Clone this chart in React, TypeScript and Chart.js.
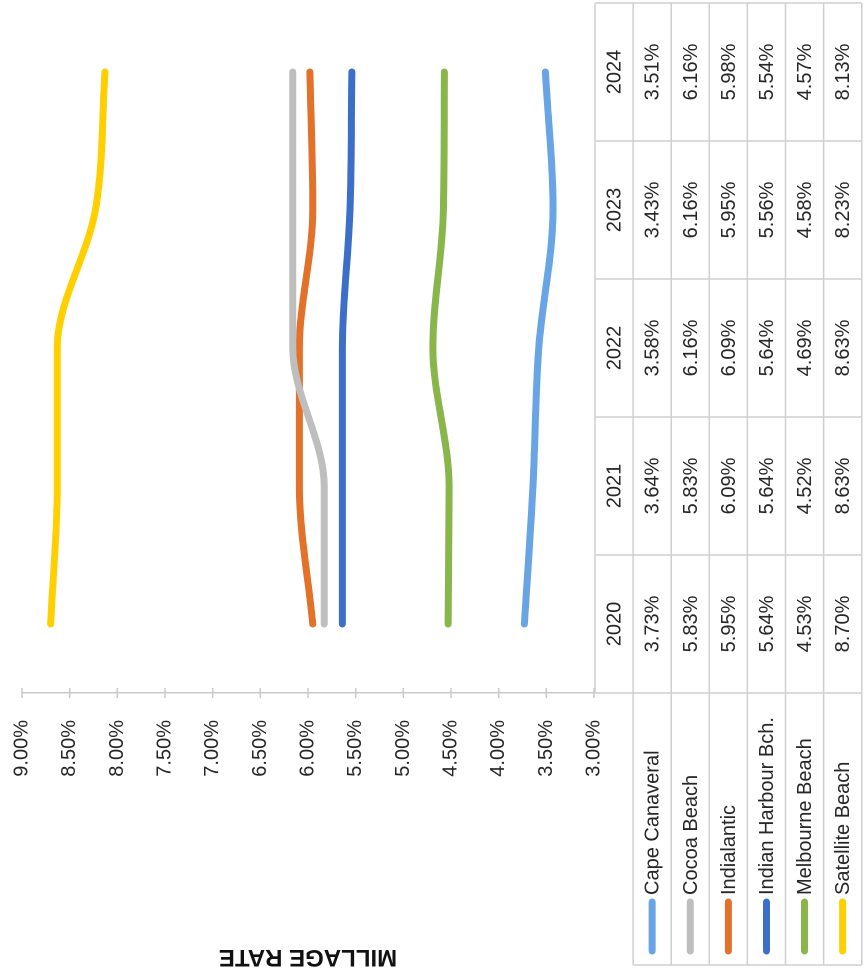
import React, { useEffect, useRef } from "react";
import { Chart, registerables } from "chart.js";

Chart.register(...registerables);

// ---- data ----
const years = ["2020", "2021", "2022", "2023", "2024"];
const seriesNames = [
  "Cape Canaveral",
  "Cocoa Beach",
  "Indialantic",
  "Indian Harbour Bch.",
  "Melbourne Beach",
  "Satellite Beach",
];
const capeCanaveral = [3.73, 3.64, 3.58, 3.43, 3.51];
const cocoaBeach = [5.83, 5.83, 6.16, 6.16, 6.16];
const indialantic = [5.95, 6.09, 6.09, 5.95, 5.98];
const indianHarbour = [5.64, 5.64, 5.64, 5.56, 5.54];
const melbourneBeach = [4.53, 4.52, 4.69, 4.58, 4.57];
const satelliteBeach = [8.7, 8.63, 8.63, 8.23, 8.13];
const seriesColors = ["#69A5E4", "#BEBEBE", "#E2722A", "#3C6FC8", "#88B64B", "#FFCF00"];
const axisMin = 3;
const axisMax = 9;
const axisStep = 0.5;
const axisTitle = "MILLAGE RATE";

const seriesValues = [capeCanaveral, cocoaBeach, indialantic, indianHarbour, melbourneBeach, satelliteBeach];

const FONT = "'Liberation Sans', Arial, sans-serif";
const fmt = (v: number) => v.toFixed(2) + "%";

const tablePlugin = {
  id: "dataTable",
  afterDraw(chart: any) {
    const ctx = chart.ctx as CanvasRenderingContext2D;
    const area = chart.chartArea;
    const xs = chart.scales.x;
    const ys = chart.scales.y;
    const n = years.length;
    const colW = xs.getPixelForValue(1) - xs.getPixelForValue(0);
    const bounds: number[] = [];
    for (let i = 0; i <= n; i++) bounds.push(xs.getPixelForValue(0) - colW / 2 + i * colW);
    const top = 595;
    const rowH = 38.1;
    const rows = seriesNames.length;
    const bottom = top + rowH * (rows + 1);
    const legendLeft = 11;

    ctx.save();
    // crossing tick marks on value axis
    ctx.strokeStyle = "#C8C8C8";
    ctx.lineWidth = 1.5;
    ys.ticks.forEach((t: any) => {
      const py = ys.getPixelForValue(t.value);
      ctx.beginPath();
      ctx.moveTo(area.left - 5, py);
      ctx.lineTo(area.left + 5, py);
      ctx.stroke();
    });

    // table grid
    ctx.strokeStyle = "#CFCFCF";
    ctx.lineWidth = 1.5;
    ctx.beginPath();
    ctx.moveTo(bounds[0], top);
    ctx.lineTo(bounds[n], top);
    for (let r = 1; r <= rows + 1; r++) {
      const yy = top + r * rowH;
      ctx.moveTo(legendLeft, yy);
      ctx.lineTo(bounds[n], yy);
    }
    for (let i = 0; i <= n; i++) {
      ctx.moveTo(bounds[i], top);
      ctx.lineTo(bounds[i], bottom);
    }
    ctx.moveTo(legendLeft, top + rowH);
    ctx.lineTo(legendLeft, bottom);
    ctx.stroke();

    // text
    ctx.fillStyle = "#262626";
    ctx.font = `20px ${FONT}`;
    ctx.textBaseline = "middle";
    ctx.textAlign = "center";
    for (let i = 0; i < n; i++) {
      const cx = xs.getPixelForValue(i);
      ctx.fillText(years[i], cx, top + rowH / 2 + 1);
      for (let r = 0; r < rows; r++) {
        ctx.fillText(fmt(seriesValues[r][i]), cx, top + rowH * (r + 1) + rowH / 2 + 1);
      }
    }
    // legend column
    ctx.textAlign = "left";
    for (let r = 0; r < rows; r++) {
      const cy = top + rowH * (r + 1) + rowH / 2;
      ctx.strokeStyle = seriesColors[r];
      ctx.lineWidth = 7;
      ctx.lineCap = "round";
      ctx.beginPath();
      ctx.moveTo(25, cy);
      ctx.lineTo(74, cy);
      ctx.stroke();
      ctx.fillText(seriesNames[r], 81, cy + 1);
    }
    ctx.restore();
  },
};

export default function App() {
  const canvasRef = useRef<HTMLCanvasElement | null>(null);

  useEffect(() => {
    if (!canvasRef.current) return;
    const chart = new Chart(canvasRef.current, {
      type: "line",
      data: {
        labels: years,
        datasets: seriesNames.map((name, i) => ({
          label: name,
          data: seriesValues[i],
          borderColor: seriesColors[i],
          backgroundColor: seriesColors[i],
          borderWidth: 7,
          borderCapStyle: "round" as const,
          borderJoinStyle: "round" as const,
          pointRadius: 0,
          cubicInterpolationMode: "monotone" as const,
          fill: false,
        })),
      },
      options: {
        animation: false,
        responsive: false,
        maintainAspectRatio: false,
        devicePixelRatio: 2,
        layout: { padding: { left: 0, right: 3, top: 22, bottom: 274 } },
        plugins: { legend: { display: false }, tooltip: { enabled: false }, title: { display: false } },
        scales: {
          x: {
            type: "category",
            offset: true,
            ticks: { display: false },
            grid: { display: false, drawTicks: false },
            border: { display: false },
            afterFit: (s: any) => {
              s.height = 0;
              s.paddingLeft = 0;
              s.paddingRight = 0;
            },
          },
          y: {
            min: axisMin,
            max: axisMax,
            ticks: {
              stepSize: axisStep,
              padding: 27,
              color: "#262626",
              font: { family: FONT, size: 20 },
              callback: (v: any) => fmt(Number(v)),
            },
            grid: { display: false, drawTicks: false },
            border: { display: true, color: "#C8C8C8", width: 1.5 },
            title: {
              display: true,
              text: axisTitle,
              color: "#111111",
              font: { family: FONT, size: 24, weight: "bold" },
              padding: { top: 5, bottom: 0 },
            },
            afterFit: (s: any) => {
              s.width = 283;
              s.paddingTop = 0;
              s.paddingBottom = 0;
            },
          },
        },
      },
      plugins: [tablePlugin],
    });
    return () => chart.destroy();
  }, []);

  return (
    <div
      style={{
        position: "fixed",
        left: 0,
        top: 0,
        width: 868,
        height: 976,
        overflow: "hidden",
        background: "#ffffff",
      }}
    >
      <div
        style={{
          position: "absolute",
          left: 0,
          top: 0,
          width: 976,
          height: 868,
          transformOrigin: "0 0",
          transform: "translateY(976px) rotate(-90deg)",
        }}
      >
        <canvas ref={canvasRef} width={976} height={868} style={{ width: 976, height: 868, display: "block" }} />
      </div>
    </div>
  );
}
